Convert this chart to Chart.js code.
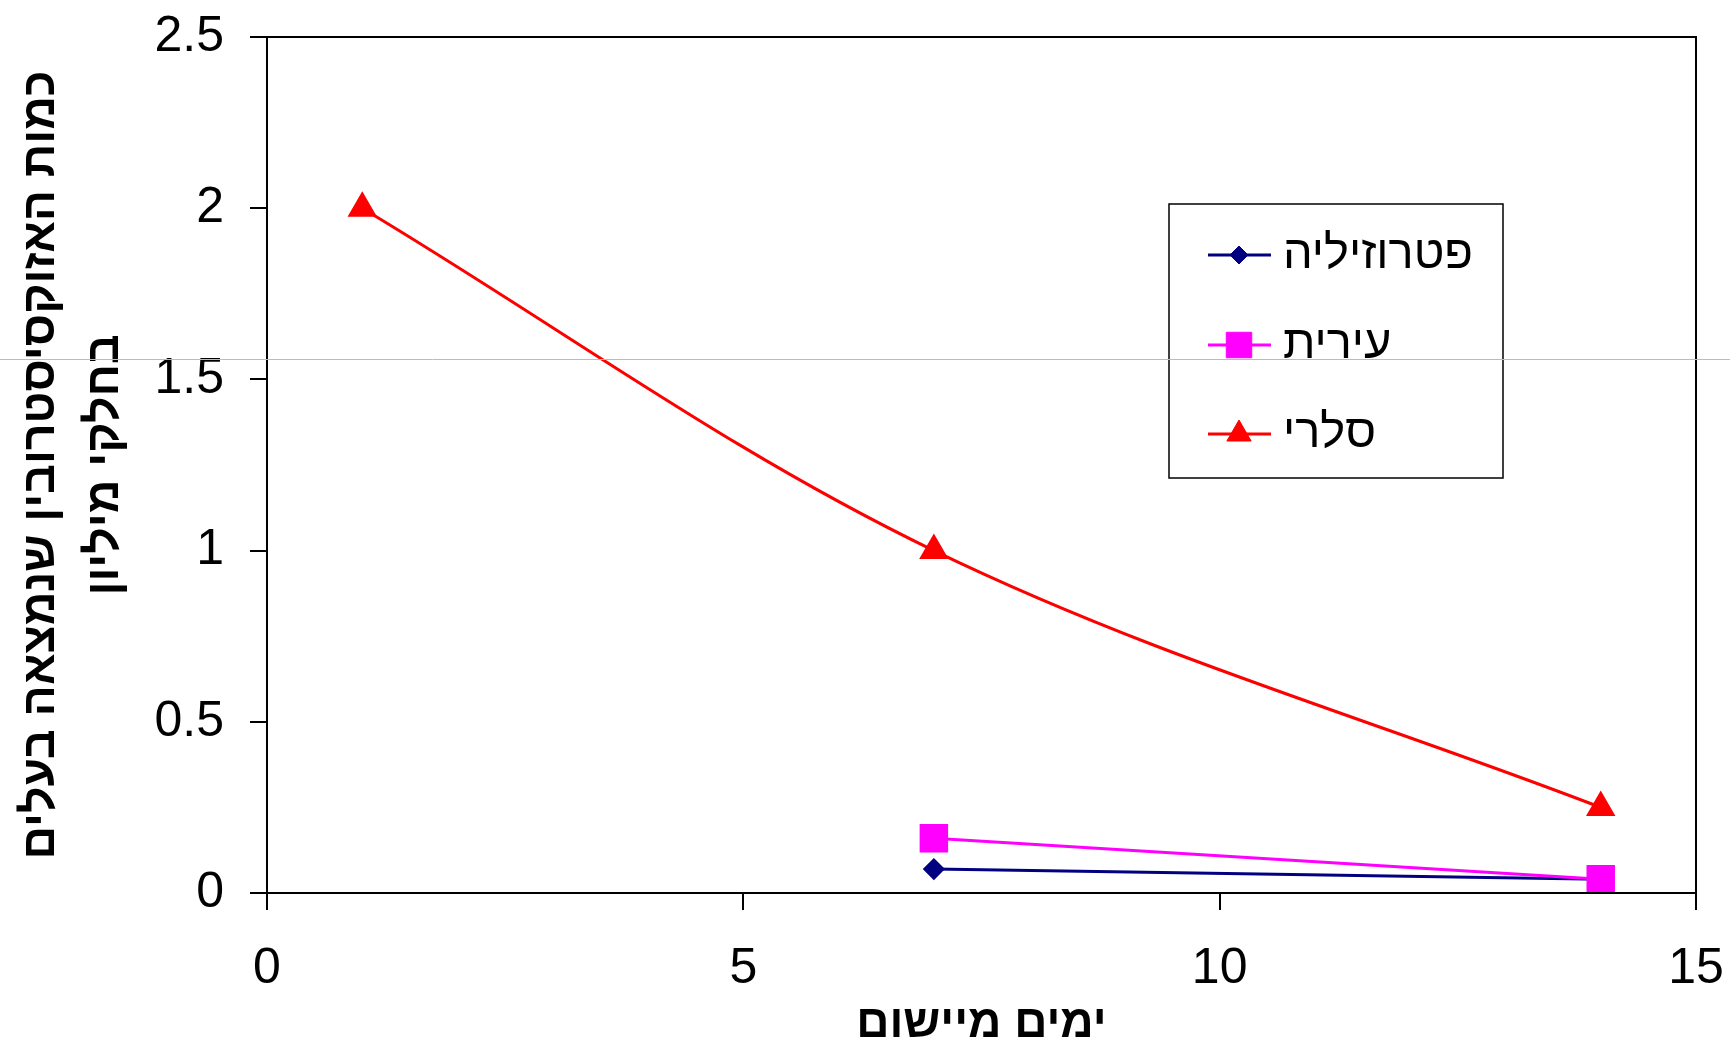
<!DOCTYPE html>
<html>
<head>
<meta charset="utf-8">
<script src="https://cdn.jsdelivr.net/npm/chart.js@4.4.1/dist/chart.umd.min.js"></script>
<style>
  html, body { margin: 0; padding: 0; background: #fff; }
  #wrap { width: 1730px; height: 1047px; position: relative; }
</style>
</head>
<body>
<div id="wrap"><canvas id="chart"></canvas></div>
<script>
// --- data ---
const days = [1, 7, 14];
const parsleyX = [7, 14];
const parsleyY = [0.07, 0.04];
const dillX = [7, 14];
const dillY = [0.16, 0.04];
const celeryX = days;
const celeryY = [2, 1, 0.25];

const seriesNames = ['פטרוזיליה', 'עירית', 'סלרי'];
const yTitle = ['כמות האזוקסיסטרובין שנמצאה בעלים', 'בחלקי מיליון'];
const xTitle = 'ימים מיישום';

const FONT = 'Arial, "Liberation Sans", sans-serif';

function toPoints(xs, ys) {
    return xs.map((x, i) => ({ x, y: ys[i] }));
}

// plot frame (top + right edges too, like the Excel chart)
const frame = {
    id: 'frame',
    afterDatasetsDraw(chart) {
        const { ctx, chartArea: a } = chart;
        ctx.save();
        ctx.strokeStyle = '#000';
        ctx.lineWidth = 2;
        ctx.strokeRect(a.left, a.top, a.right - a.left, a.bottom - a.top);
        ctx.restore();
    }
};

// boxed legend inside the plot
const boxLegend = {
    id: 'boxLegend',
    afterDraw(chart) {
        const ctx = chart.ctx;
        const box = { x: 1169, y: 204, w: 334, h: 274 };
        const rows = [255, 345, 434];
        ctx.save();
        ctx.fillStyle = '#fff';
        ctx.fillRect(box.x, box.y, box.w, box.h);
        ctx.strokeStyle = '#000';
        ctx.lineWidth = 1.5;
        ctx.strokeRect(box.x, box.y, box.w, box.h);

        chart.data.datasets.forEach((ds, i) => {
            const y = rows[i];
            ctx.strokeStyle = ds.borderColor;
            ctx.lineWidth = ds.borderWidth;
            ctx.beginPath();
            ctx.moveTo(1208, y);
            ctx.lineTo(1271, y);
            ctx.stroke();

            ctx.fillStyle = ds.pointBackgroundColor;
            ctx.strokeStyle = ds.pointBorderColor;
            ctx.lineWidth = 1;
            Chart.helpers.drawPoint(ctx, {
                pointStyle: ds.pointStyle,
                radius: ds.pointRadius,
                rotation: 0,
                borderWidth: 1
            }, 1239, y);

            ctx.fillStyle = '#000';
            ctx.font = '47px ' + FONT;
            ctx.textAlign = 'left';
            ctx.textBaseline = 'middle';
            ctx.fillText(ds.label, 1283, y);
        });

        // thin stray guide line that crosses the whole picture
        ctx.strokeStyle = '#8fcfcf';
        ctx.lineWidth = 1;
        ctx.beginPath();
        ctx.moveTo(0, 359.5);
        ctx.lineTo(chart.width, 359.5);
        ctx.stroke();
        ctx.restore();
    }
};

const ctx = document.getElementById('chart').getContext('2d');
new Chart(ctx, {
    type: 'line',
    data: {
        datasets: [{
            label: seriesNames[0],
            data: toPoints(parsleyX, parsleyY),
            borderColor: '#000080',
            backgroundColor: '#000080',
            borderWidth: 3,
            pointStyle: 'rectRot',
            pointRadius: 9,
            pointBackgroundColor: '#000080',
            pointBorderColor: '#000080',
            tension: 0,
            order: 3
        }, {
            label: seriesNames[1],
            data: toPoints(dillX, dillY),
            borderColor: '#ff00ff',
            backgroundColor: '#ff00ff',
            borderWidth: 3,
            pointStyle: 'rect',
            pointRadius: 18,
            pointBackgroundColor: '#ff00ff',
            pointBorderColor: '#ff00ff',
            tension: 0,
            order: 2
        }, {
            label: seriesNames[2],
            data: toPoints(celeryX, celeryY),
            borderColor: '#ff0000',
            backgroundColor: '#ff0000',
            borderWidth: 3,
            pointStyle: 'triangle',
            pointRadius: 14,
            pointBackgroundColor: '#ff0000',
            pointBorderColor: '#ff0000',
            tension: 0.35,
            order: 1
        }]
    },
    options: {
        responsive: true,
        maintainAspectRatio: false,
        animation: false,
        clip: false,
        layout: { padding: { top: 37, right: 34, left: 0, bottom: 0 } },
        plugins: {
            legend: { display: false },
            tooltip: { enabled: false }
        },
        scales: {
            x: {
                type: 'linear',
                min: 0,
                max: 15,
                ticks: {
                    stepSize: 5,
                    color: '#000',
                    padding: 29,
                    font: { family: FONT, size: 50 }
                },
                grid: { drawOnChartArea: false, tickLength: 17, color: '#000', lineWidth: 2 },
                border: { color: '#000', width: 2 },
                title: {
                    display: true,
                    text: xTitle,
                    color: '#000',
                    font: { family: FONT, size: 46, weight: 'bold', lineHeight: 1 },
                    padding: { top: 0, bottom: 0 }
                },
                afterFit(scale) {
                    scale.height = 154;
                    scale.paddingLeft = 0;
                    scale.paddingRight = 0;
                }
            },
            y: {
                min: 0,
                max: 2.5,
                ticks: {
                    stepSize: 0.5,
                    color: '#000',
                    padding: 26,
                    font: { family: FONT, size: 50 },
                    callback: (v) => String(v)
                },
                grid: { drawOnChartArea: false, tickLength: 17, color: '#000', lineWidth: 2 },
                border: { color: '#000', width: 2 },
                title: {
                    display: true,
                    text: yTitle,
                    color: '#000',
                    font: { family: FONT, size: 46.3, weight: 'bold', lineHeight: 64 / 46.3 },
                    padding: { top: 9, bottom: 0 }
                },
                afterFit(scale) {
                    scale.width = 267;
                    scale.paddingTop = 0;
                    scale.paddingBottom = 0;
                }
            }
        }
    },
    plugins: [frame, boxLegend]
});
</script>
</body>
</html>
